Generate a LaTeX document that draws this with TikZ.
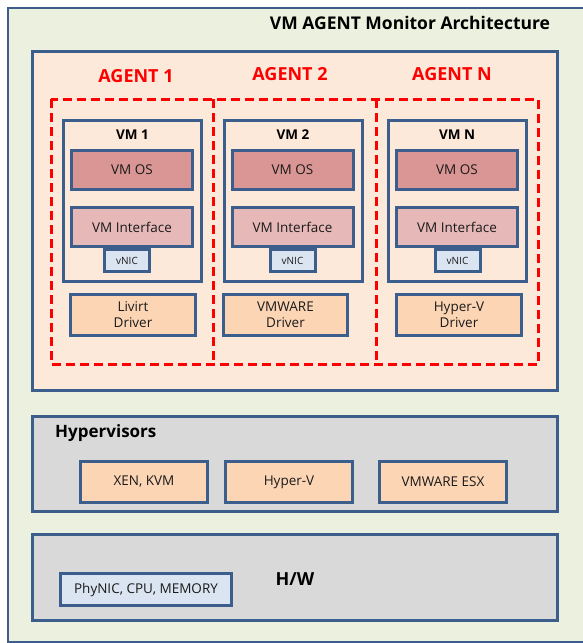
\documentclass[tikz,border=0pt]{standalone}
\usepackage{fontspec}
\setmainfont{Open Sans}
\definecolor{boxblue}{HTML}{3B5E8C}
\definecolor{outerfill}{HTML}{EBF1DE}
\definecolor{agentfill}{HTML}{FDE9D9}
\definecolor{osred}{HTML}{D99694}
\definecolor{ifacepink}{HTML}{E6B9B8}
\definecolor{nicblue}{HTML}{DBE5F1}
\definecolor{drvorange}{HTML}{FCD5B5}
\definecolor{hvgray}{HTML}{D9D9D9}
\definecolor{txtgray}{HTML}{1A1A1A}
\tikzset{
  every node/.style={inner sep=0pt, text=txtgray},
  frame/.style={draw=boxblue, line width=3pt},
  layerbox/.style={frame, fill=hvgray, minimum width=525pt},
  vmbox/.style={frame, fill=agentfill, minimum width=138pt, minimum height=161pt},
  osbox/.style={frame, fill=osred, minimum width=121pt, minimum height=39pt, font=\fontsize{13.5}{15}\selectfont},
  ifacebox/.style={frame, fill=ifacepink, minimum width=121pt, minimum height=39pt, font=\fontsize{13.5}{15}\selectfont},
  nicbox/.style={frame, fill=nicblue, minimum width=45pt, minimum height=22pt, font=\fontsize{10}{11}\selectfont},
  drvbox/.style={frame, fill=drvorange, minimum height=41pt, align=center, font=\fontsize{13.5}{16}\selectfont},
  hvbox/.style={frame, fill=drvorange, minimum width=127pt, minimum height=41pt, font=\fontsize{13.5}{15}\selectfont},
  agentarea/.style={minimum width=162pt, minimum height=265pt},
  agentline/.style={draw=red, line width=3pt, dash pattern=on 9pt off 5pt},
  agentlabel/.style={text=red, font=\bfseries\fontsize{18}{21}\selectfont},
  vmlabel/.style={text=black, font=\bfseries\fontsize{13.5}{15}\selectfont},
  layerlabel/.style={text=black, font=\bfseries\fontsize{17}{20}\selectfont}
}

\begin{document}
\begin{tikzpicture}[x=1pt, y=-1pt]
        \useasboundingbox[fill=white] (0,0) rectangle (583,643);
        %marco general
        \draw[boxblue, line width=2pt, fill=outerfill] (8,8) rectangle (600,642);
        \node[text=black, font=\bfseries\fontsize{17.5}{20}\selectfont] (title) at (410,23) {VM AGENT Monitor Architecture};
        %zona de agentes
        \node[frame, fill=agentfill, minimum width=525pt, minimum height=339pt] (agents) at (295,221) {};
        \node[agentlabel] (ag1) at (136,76) {AGENT 1};
        \node[agentlabel] (ag2) at (290,74) {AGENT 2};
        \node[agentlabel] (agN) at (452,74) {AGENT N};
        %vm 1
        \node[vmbox] (vm1) at (132.5,201) {};
        \node[vmlabel] (vm1lbl) at (132.5,135) {VM 1};
        \node[osbox] (os1) at (132,170) {VM OS};
        \node[ifacebox] (if1) at (132,227) {VM Interface};
        \node[nicbox] (nic1) at (127,260.5) {vNIC};
        \node[drvbox, minimum width=125pt] (drv1) at (133,315) {Livirt\\Driver};
        %vm 2
        \node[vmbox] (vm2) at (293,201) {};
        \node[vmlabel] (vm2lbl) at (293,135) {VM 2};
        \node[osbox] (os2) at (292.5,170) {VM OS};
        \node[ifacebox] (if2) at (292.5,227) {VM Interface};
        \node[nicbox] (nic2) at (292.5,260.5) {vNIC};
        \node[drvbox, minimum width=124pt] (drv2) at (285.5,315) {VMWARE\\Driver};
        %vm N
        \node[vmbox] (vmN) at (457,201) {};
        \node[vmlabel] (vmNlbl) at (457,135) {VM N};
        \node[osbox] (osN) at (457,170) {VM OS};
        \node[ifacebox] (ifN) at (457,227) {VM Interface};
        \node[nicbox] (nicN) at (457.5,260.5) {vNIC};
        \node[drvbox, minimum width=125pt] (drvN) at (459,315) {Hyper-V\\Driver};
        %agentes (linea roja)
        \node[agentarea] (area1) at (132.5,232) {};
        \node[agentarea] (area2) at (295,232) {};
        \node[agentarea] (areaN) at (457,232) {};
        \draw[agentline] (area1.north west) rectangle (areaN.south east);
        \draw[agentline] (area1.north east) -- (area1.south east);
        \draw[agentline] (area2.north east) -- (area2.south east);
        %hipervisores
        \node[layerbox, minimum height=95pt] (hyper) at (295,464) {};
        \node[layerlabel, anchor=west] (hyperlbl) at (55,433) {Hypervisors};
        \node[hvbox] (xen) at (144,482) {XEN, KVM};
        \node[hvbox] (hyperv) at (289,482) {Hyper-V};
        \node[hvbox] (esx) at (443,482) {VMWARE ESX};
        %hardware
        \node[layerbox, minimum height=86pt] (hw) at (295,577.5) {};
        \node[layerlabel, font=\bfseries\fontsize{18}{21}\selectfont] (hwlbl) at (295,579) {H/W};
        \node[frame, fill=nicblue, minimum width=171pt, minimum height=32pt, font=\fontsize{13.5}{15}\selectfont] (phy) at (146,589.5) {PhyNIC, CPU, MEMORY};
\end{tikzpicture}
\end{document}
